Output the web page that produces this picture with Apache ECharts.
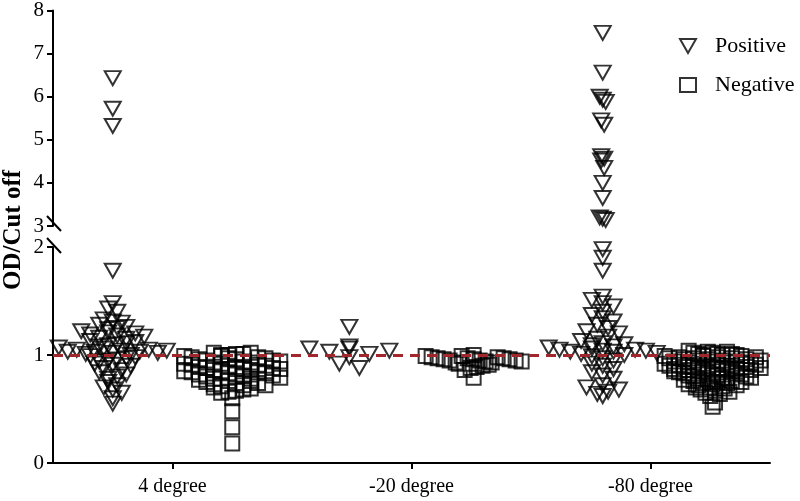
<!DOCTYPE html>
<html>
<head>
<meta charset="utf-8">
<script src="https://cdn.jsdelivr.net/npm/echarts@6/dist/echarts.min.js"></script>
<style>
  html, body { margin: 0; padding: 0; background: #fff; }
  #chart { width: 800px; height: 501px; }
</style>
</head>
<body>
<div id="chart"></div>
<script>
// categories and read-off values (OD / cut off)
var categories = ['4 degree', '-20 degree', '-80 degree'];

var pos4 = [6.43, 5.72, 5.32, 1.78, 1.48, 1.43, 1.40, 1.33, 1.31, 1.30, 1.28, 1.26, 1.25, 1.24, 1.22, 1.21,
  1.20, 1.19, 1.18, 1.17, 1.16, 1.15, 1.13, 1.12, 1.11, 1.10, 1.09, 1.08, 1.07, 1.06, 1.05, 1.05, 1.04,
  1.04, 1.03, 1.03, 1.03, 1.02, 1.02, 1.01, 1.00, 0.99, 0.98, 0.97, 0.96, 0.95, 0.94, 0.92, 0.91, 0.90,
  0.88, 0.86, 0.84, 0.82, 0.80, 0.78, 0.75, 0.72, 0.70, 0.68, 0.65, 0.60, 0.55];
var neg4 = [1.02, 1.02, 1.01, 1.01, 1.00, 1.00, 0.99, 0.99, 0.98, 0.98, 0.97, 0.97, 0.96, 0.96, 0.95, 0.95,
  0.94, 0.94, 0.93, 0.93, 0.92, 0.92, 0.91, 0.91, 0.90, 0.90, 0.89, 0.89, 0.88, 0.88, 0.87, 0.87, 0.86,
  0.86, 0.85, 0.85, 0.84, 0.84, 0.83, 0.83, 0.82, 0.82, 0.81, 0.80, 0.80, 0.79, 0.78, 0.78, 0.77, 0.76,
  0.76, 0.75, 0.74, 0.74, 0.73, 0.72, 0.72, 0.71, 0.70, 0.69, 0.68, 0.67, 0.66, 0.65, 0.60, 0.48, 0.33, 0.18];
var pos20 = [1.26, 1.08, 1.06, 1.06, 1.04, 1.03, 1.01, 0.98, 0.92, 0.88];
var neg20 = [1.00, 0.99, 0.99, 0.98, 0.98, 0.97, 0.97, 0.97, 0.96, 0.96, 0.96, 0.95, 0.95, 0.95, 0.94,
  0.94, 0.93, 0.93, 0.92, 0.91, 0.90, 0.89, 0.88, 0.86, 0.79];
var pos80 = [7.48, 6.56, 6.00, 5.93, 5.88, 5.45, 5.35, 4.62, 4.56, 4.52, 4.35, 4.00, 3.65, 3.20, 3.17, 3.14,
  1.98, 1.90, 1.78, 1.54, 1.51, 1.48, 1.45, 1.40, 1.37, 1.34, 1.31, 1.28, 1.25, 1.22, 1.20, 1.17, 1.15,
  1.13, 1.11, 1.10, 1.09, 1.08, 1.07, 1.06, 1.05, 1.05, 1.04, 1.04, 1.03, 1.03, 1.02, 1.01, 1.00, 0.99,
  0.97, 0.95, 0.92, 0.90, 0.87, 0.84, 0.81, 0.78, 0.72, 0.70, 0.68, 0.66, 0.64, 0.62];
var neg80 = [1.04, 1.03, 1.03, 1.02, 1.02, 1.01, 1.01, 1.01, 1.00, 1.00, 1.00, 0.99, 0.99, 0.99, 0.98, 0.98,
  0.98, 0.97, 0.97, 0.97, 0.96, 0.96, 0.96, 0.95, 0.95, 0.95, 0.94, 0.94, 0.94, 0.93, 0.93, 0.93, 0.92,
  0.92, 0.92, 0.91, 0.91, 0.91, 0.90, 0.90, 0.90, 0.89, 0.89, 0.89, 0.88, 0.88, 0.88, 0.87, 0.87, 0.87,
  0.86, 0.86, 0.86, 0.85, 0.85, 0.85, 0.84, 0.84, 0.83, 0.83, 0.82, 0.82, 0.81, 0.81, 0.80, 0.80, 0.79,
  0.79, 0.78, 0.78, 0.77, 0.77, 0.76, 0.76, 0.75, 0.75, 0.74, 0.74, 0.73, 0.73, 0.72, 0.72, 0.71, 0.70,
  0.70, 0.69, 0.68, 0.67, 0.66, 0.65, 0.64, 0.62, 0.56, 0.52];

var cutoff = 1;
var breakAt = 2.5; // values above go to the upper panel (3-8)

// layout constants
var PX_X = 717 / 3;   // px per x unit
var PX_LO = 108;      // px per y unit, lower panel
var PX_HI = 43.25;    // px per y unit, upper panel
var posShift = [-0.25, -0.26, -0.2];
var negShift = [0.25, 0.26, 0.26];
var FONT = '"Liberation Serif", "Times New Roman", serif';
var TRI = 'path://M0,0 L16,0 L8,14 Z';

function gcd(a, b) { return b ? gcd(b, a % b) : a; }

// column scatter like GraphPad: bin points into rows, spread each row sideways
// with one spacing per column so the widest row fits the column width
function column(values, center, rowH, sMax, maxHalf) {
  var rows = {};
  values.forEach(function (v) {
    var hi = v > breakAt;
    var py = hi ? v * PX_HI : v * PX_LO;
    var key = (hi ? 'h' : 'l') + Math.round(py / rowH);
    (rows[key] = rows[key] || []).push(v);
  });
  var maxN = 1;
  Object.keys(rows).forEach(function (k) {
    if (k.charAt(0) === 'l') maxN = Math.max(maxN, rows[k].length);
  });
  var sp = maxN > 1 ? Math.min(sMax, 2 * maxHalf / (maxN - 1)) : 0;
  var out = [];
  Object.keys(rows).forEach(function (k) {
    var r = rows[k].sort(function (a, b) { return b - a; });
    var n = r.length;
    var s = k.charAt(0) === 'h' ? 3 : sp;
    // mix the slot order so a row does not slope with its values
    var step = Math.max(1, Math.round(n * 0.38));
    while (gcd(step, n) !== 1) step++;
    r.forEach(function (v, j) {
      var slot = n > 2 ? (j * step) % n : j;
      out.push([center + (slot - (n - 1) / 2) * s / PX_X, v]);
    });
  });
  return out;
}

var posGroups = [pos4, pos20, pos80];
var negGroups = [neg4, neg20, neg80];
var posLo = [], posHi = [], negLo = [], negHi = [];
posGroups.forEach(function (g, i) {
  column(g, i + 0.5 + posShift[i], 8, 20, 54).forEach(function (p) {
    (p[1] > breakAt ? posHi : posLo).push(p);
  });
});
negGroups.forEach(function (g, i) {
  column(g, i + 0.5 + negShift[i], 8, 18, 48).forEach(function (p) {
    (p[1] > breakAt ? negHi : negLo).push(p);
  });
});

var hollow = { color: 'rgba(0,0,0,0)', borderColor: '#000', borderWidth: 2 };

var axisLine = { show: true, lineStyle: { color: '#000', width: 2 } };
var axisTick = { show: true, inside: false, length: 6, lineStyle: { color: '#000', width: 2 } };
var yLabel = { color: '#000', fontFamily: FONT, fontSize: 21, margin: 9 };

var myChart = echarts.init(document.getElementById('chart'));
var option = {
  animation: false,
  backgroundColor: '#fff',
  legend: {
    data: ['Positive', 'Negative'],
    orient: 'vertical',
    left: 674,
    top: 30,
    itemWidth: 16,
    itemHeight: 14,
    itemGap: 17,
    textStyle: { color: '#000', fontFamily: FONT, fontSize: 22, padding: [0, 0, 0, 14] }
  },
  grid: [
    { left: 53, right: 30, top: 247, bottom: 38 },
    { left: 53, right: 30, top: 10, height: 216 }
  ],
  xAxis: [
    {
      type: 'category', gridIndex: 0, data: categories,
      axisLine: axisLine,
      axisTick: { show: true, alignWithLabel: true, length: 6, lineStyle: { color: '#000', width: 2 } },
      axisLabel: { color: '#000', fontFamily: FONT, fontSize: 20, margin: 14 },
      splitLine: { show: false }
    },
    { type: 'value', gridIndex: 0, min: 0, max: 3, show: false },
    { type: 'value', gridIndex: 1, min: 0, max: 3, show: false }
  ],
  yAxis: [
    {
      type: 'value', gridIndex: 0, min: 0, max: 2, interval: 1,
      axisLine: axisLine, axisTick: axisTick, axisLabel: yLabel, splitLine: { show: false }
    },
    {
      type: 'value', gridIndex: 1, min: 3, max: 8, interval: 1,
      axisLine: axisLine, axisTick: axisTick, axisLabel: yLabel, splitLine: { show: false }
    }
  ],
  graphic: [
    {
      type: 'text', rotation: Math.PI / 2, x: 14, y: 230,
      style: { text: 'OD/Cut off', fill: '#000', font: 'bold 25px ' + FONT, align: 'center', verticalAlign: 'middle' }
    },
    { type: 'line', shape: { x1: 47, y1: 216, x2: 61, y2: 231 }, style: { stroke: '#000', lineWidth: 2 } },
    { type: 'line', shape: { x1: 47, y1: 238, x2: 61, y2: 253 }, style: { stroke: '#000', lineWidth: 2 } }
  ],
  series: [
    {
      name: 'Negative', type: 'scatter', xAxisIndex: 1, yAxisIndex: 0,
      symbol: 'rect', symbolSize: 14, itemStyle: hollow, data: negLo,
      markLine: {
        silent: true, symbol: 'none', label: { show: false },
        lineStyle: { color: '#a3262a', width: 3, type: [10, 7] },
        data: [{ yAxis: cutoff }]
      }
    },
    {
      name: 'Negative', type: 'scatter', xAxisIndex: 2, yAxisIndex: 1,
      symbol: 'rect', symbolSize: 14, itemStyle: hollow, data: negHi
    },
    {
      name: 'Positive', type: 'scatter', xAxisIndex: 1, yAxisIndex: 0,
      symbol: TRI, symbolSize: [16, 14], itemStyle: hollow, data: posLo
    },
    {
      name: 'Positive', type: 'scatter', xAxisIndex: 2, yAxisIndex: 1,
      symbol: TRI, symbolSize: [16, 14], itemStyle: hollow, data: posHi
    }
  ]
};
myChart.setOption(option);
</script>
</body>
</html>
